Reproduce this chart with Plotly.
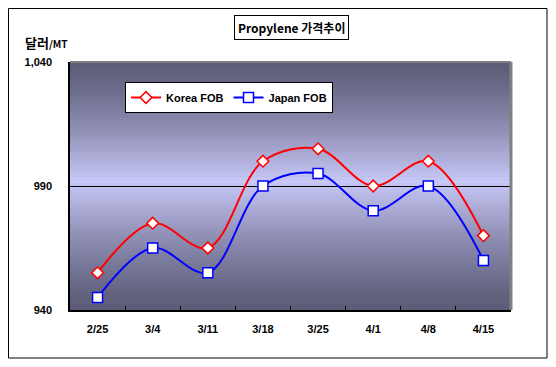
import plotly.graph_objects as go

categories = ["2/25", "3/4", "3/11", "3/18", "3/25", "4/1", "4/8", "4/15"]
korea_fob = [955, 975, 965, 1000, 1005, 990, 1000, 970]
japan_fob = [945, 965, 955, 990, 995, 980, 990, 960]
y_ticks = [940, 990, 1040]
y_tick_labels = ["940", "990", "1,040"]

OFF = 8  # default body margin of the page
W, H = 556 - 2 * OFF, 367 - 2 * OFF
PL, PR, PT, PB = 70, 511, 62, 310
L, R, T, B = PL - OFF, PR - OFF, PT - OFF, PB - OFF

def px_x(x):
    return (x - OFF - L) / (R - L)

def px_y(y):
    return (B - (y - OFF)) / (B - T)

fig = go.Figure()
fig.add_trace(go.Scatter(
    x=categories, y=korea_fob, name="Korea FOB", mode="lines+markers",
    line=dict(color="#ff0000", width=2, shape="spline", smoothing=1.0),
    marker=dict(symbol="diamond", size=9, color="white", line=dict(color="#ff0000", width=1.5)),
))
fig.add_trace(go.Scatter(
    x=categories, y=japan_fob, name="Japan FOB", mode="lines+markers",
    line=dict(color="#0000ff", width=2, shape="spline", smoothing=1.0),
    marker=dict(symbol="square", size=10, color="white", line=dict(color="#0000ff", width=1.5)),
))

def lerp(c1, c2, t):
    return tuple(round(a + (b - a) * t) for a, b in zip(c1, c2))

dark = (0x5c, 0x5c, 0x78)
light = (0xc8, 0xc8, 0xf8)
mid = 0.52
shapes = []
N = 80
for i in range(N):
    f0 = i / N
    f1 = (i + 1) / N
    fc = (f0 + f1) / 2
    if fc < mid:
        t = fc / mid
    else:
        t = (1 - fc) / (1 - mid)
    c = lerp(dark, light, t ** 1.3)
    shapes.append(dict(type="rect", xref="x domain", yref="y domain", x0=0, x1=1, y0=f0, y1=f1 + 0.002,
                       fillcolor="rgb(%d,%d,%d)" % c, line=dict(width=0), layer="below"))
shapes.append(dict(type="line", xref="x domain", yref="y domain", x0=0, x1=1, y0=1, y1=1,
                   line=dict(color="#808080", width=2), layer="above"))
shapes.append(dict(type="line", xref="x domain", yref="y domain", x0=1, x1=1, y0=0, y1=1,
                   line=dict(color="#808080", width=3), layer="above"))
shapes.append(dict(type="rect", xref="paper", yref="paper",
                   x0=px_x(OFF + 0.5), x1=px_x(OFF + W - 1), y0=px_y(OFF + H - 1), y1=px_y(OFF + 0.5),
                   line=dict(color="black", width=1), fillcolor="rgba(0,0,0,0)", layer="above"))

fig.update_layout(
    width=W, height=H,
    margin=dict(l=L, r=W - R, t=T, b=H - B),
    paper_bgcolor="white", plot_bgcolor="#9090b8",
    shapes=shapes,
    showlegend=True,
    legend=dict(
        orientation="h", x=px_x(125), y=px_y(82), xanchor="left", yanchor="top",
        bgcolor="white", bordercolor="black", borderwidth=1,
        font=dict(family="Liberation Sans, Arial", size=11, color="black", weight="bold"),
        itemwidth=30, tracegroupgap=0,
    ),
    font=dict(family="Liberation Sans, Arial", size=11, color="black"),
    annotations=[
        dict(text="<b>Propylene 가격추이</b>", xref="paper", yref="paper",
             x=px_x(291), y=px_y(27), xanchor="center", yanchor="middle", showarrow=False,
             font=dict(family="Noto Sans CJK KR, Liberation Sans", size=12, color="black"),
             bordercolor="black", borderwidth=1, bgcolor="white", borderpad=3),
        dict(text="<b>달러</b><b><span style='font-size:10px'>/MT</span></b>", xref="paper", yref="paper",
             x=px_x(23), y=px_y(42), xanchor="left", yanchor="middle", showarrow=False,
             font=dict(family="Noto Sans CJK KR, Liberation Sans", size=13, color="black")),
    ],
)

fig.update_xaxes(
    type="category", range=[-0.5, 7.5],
    showline=True, linecolor="black", linewidth=1.5,
    ticks="inside", tickson="boundaries", ticklen=4, tickcolor="black",
    showgrid=False, ticklabelstandoff=8,
    tickfont=dict(family="Liberation Sans, Arial", size=11, color="black", weight="bold"),
)
fig.update_yaxes(
    range=[940, 1040], tickvals=y_ticks, ticktext=y_tick_labels,
    showline=True, linecolor="black", linewidth=1.5,
    showgrid=True, gridcolor="black", gridwidth=1,
    ticks="", ticklabelstandoff=14, zeroline=False,
    tickfont=dict(family="Liberation Sans, Arial", size=11, color="black", weight="bold"),
)

fig.write_html("out.html")
